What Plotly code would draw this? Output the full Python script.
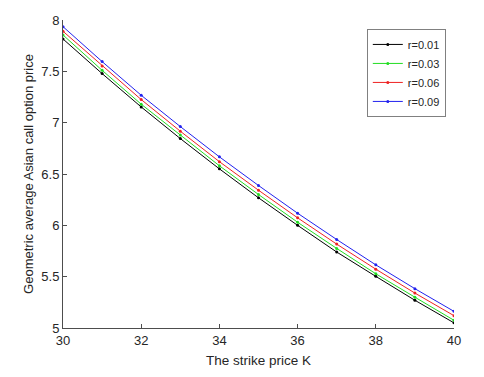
import plotly.graph_objects as go

strike = [30, 31, 32, 33, 34, 35, 36, 37, 38, 39, 40]

price_r001 = [7.815, 7.478, 7.153, 6.845, 6.55, 6.268, 6.0, 5.74, 5.503, 5.27, 5.05]
price_r003 = [7.854, 7.51, 7.18, 6.88, 6.58, 6.30, 6.03, 5.775, 5.528, 5.30, 5.075]
price_r006 = [7.89, 7.553, 7.225, 6.917, 6.62, 6.342, 6.073, 5.817, 5.573, 5.34, 5.12]
price_r009 = [7.935, 7.595, 7.267, 6.962, 6.667, 6.388, 6.118, 5.862, 5.615, 5.383, 5.162]

names = ["r=0.01", "r=0.03", "r=0.06", "r=0.09"]
colors = ["#000000", "#22dd22", "#ee2222", "#2222ee"]

fig = go.Figure()

# one line per interest rate
for name, vals, col in zip(names, [price_r001, price_r003, price_r006, price_r009], colors):
    fig.add_trace(
        go.Scatter(
            x=strike,
            y=vals,
            mode="lines+markers",
            name=name,
            line=dict(color=col, width=1),
            marker=dict(color=col, size=3),
        )
    )

axis_col = "#4d4d4d"

# page body adds ~8px offset, so the figure is a bit smaller than the window
fig.update_layout(
    width=476,
    height=369,
    margin=dict(l=55, r=30, t=12, b=49),
    plot_bgcolor="white",
    paper_bgcolor="white",
    font=dict(family="Liberation Sans, Arial, sans-serif", size=13, color="#262626"),
    showlegend=True,
    legend=dict(
        x=0.777,
        y=0.971,
        xanchor="left",
        yanchor="top",
        bgcolor="white",
        bordercolor="#808080",
        borderwidth=1,
        font=dict(size=11),
        itemwidth=30,
        tracegroupgap=0,
    ),
    xaxis=dict(
        title=dict(text="The strike price K", font=dict(size=13.5), standoff=8),
        range=[30, 40],
        tickvals=[30, 32, 34, 36, 38, 40],
        ticks="inside",
        ticklen=4,
        tickcolor=axis_col,
        showline=True,
        linecolor=axis_col,
        linewidth=1,
        showgrid=False,
        zeroline=False,
        tickfont=dict(size=13),
        automargin=False,
    ),
    yaxis=dict(
        title=dict(text="Geometric average Asian call option price", font=dict(size=13), standoff=4),
        range=[5, 8],
        tickvals=[5, 5.5, 6, 6.5, 7, 7.5, 8],
        ticktext=["5", "5.5", "6", "6.5", "7", "7.5", "8"],
        ticks="inside",
        ticklen=4,
        tickcolor=axis_col,
        showline=True,
        linecolor=axis_col,
        linewidth=1,
        showgrid=False,
        zeroline=False,
        tickfont=dict(size=13),
        automargin=False,
    ),
)

fig.write_html("out.html")
